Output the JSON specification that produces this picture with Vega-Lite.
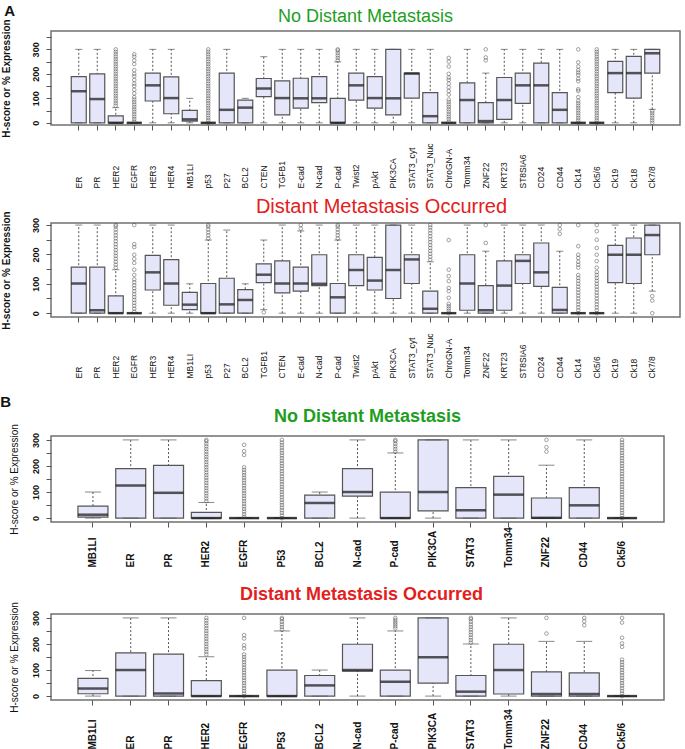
{
"$schema":"https://vega.github.io/schema/vega-lite/v6.json",
"background":"white",
"padding":{"left":0,"top":4,"right":0,"bottom":0},
"spacing":15,
"config":{
 "view":{"stroke":"#707070","strokeWidth":1.5},
 "axis":{"grid":false,"domain":false,"tickColor":"#555","labelColor":"#111","titleColor":"#111","labelFont":"Liberation Sans","titleFont":"Liberation Sans"},
 "axisY":{"labelAngle":-90,"labelAlign":"center","labelBaseline":"bottom","labelPadding":6,"tickSize":5,"labelFontSize":9,"labelFontWeight":"bold","titleFontSize":10,"labelExpr":"datum.value % 100 == 0 && datum.value <= 300 ? datum.label : ''"},
 "title":{"font":"Liberation Sans"}
},
"datasets":{
"box":[
{"p":"a1","m":"ER","lo":0,"q1":0,"md":129,"q3":189,"hi":300},
{"p":"a1","m":"PR","lo":0,"q1":0,"md":97,"q3":200,"hi":300},
{"p":"a1","m":"HER2","lo":0,"q1":0,"md":0,"q3":28,"hi":62},
{"p":"a1","m":"EGFR","lo":0,"q1":0,"md":0,"q3":0,"hi":0},
{"p":"a1","m":"HER3","lo":0,"q1":89,"md":153,"q3":203,"hi":300},
{"p":"a1","m":"HER4","lo":0,"q1":37,"md":101,"q3":188,"hi":300},
{"p":"a1","m":"MB1LI","lo":0,"q1":7,"md":14,"q3":51,"hi":100},
{"p":"a1","m":"p53","lo":0,"q1":0,"md":0,"q3":0,"hi":0},
{"p":"a1","m":"P27","lo":0,"q1":0,"md":53,"q3":203,"hi":300},
{"p":"a1","m":"BCL2","lo":0,"q1":0,"md":62,"q3":93,"hi":100},
{"p":"a1","m":"CTEN","lo":0,"q1":107,"md":140,"q3":181,"hi":270},
{"p":"a1","m":"TGFB1","lo":0,"q1":32,"md":101,"q3":171,"hi":300},
{"p":"a1","m":"E-cad","lo":0,"q1":60,"md":100,"q3":182,"hi":300},
{"p":"a1","m":"N-cad","lo":0,"q1":82,"md":100,"q3":189,"hi":300},
{"p":"a1","m":"P-cad","lo":0,"q1":0,"md":0,"q3":100,"hi":249},
{"p":"a1","m":"Twist2","lo":0,"q1":93,"md":153,"q3":203,"hi":300},
{"p":"a1","m":"pAkt","lo":0,"q1":60,"md":101,"q3":189,"hi":300},
{"p":"a1","m":"PIK3CA","lo":0,"q1":32,"md":100,"q3":300,"hi":300},
{"p":"a1","m":"STAT3_cyt","lo":0,"q1":101,"md":201,"q3":203,"hi":300},
{"p":"a1","m":"STAT3_Nuc","lo":0,"q1":0,"md":27,"q3":123,"hi":300},
{"p":"a1","m":"ChroGN-A","lo":0,"q1":0,"md":0,"q3":0,"hi":0},
{"p":"a1","m":"Tomm34","lo":0,"q1":0,"md":93,"q3":163,"hi":300},
{"p":"a1","m":"ZNF22","lo":0,"q1":0,"md":7,"q3":82,"hi":203},
{"p":"a1","m":"KRT23","lo":0,"q1":14,"md":93,"q3":185,"hi":300},
{"p":"a1","m":"ST8SIA6","lo":0,"q1":79,"md":153,"q3":203,"hi":300},
{"p":"a1","m":"CD24","lo":0,"q1":0,"md":153,"q3":244,"hi":300},
{"p":"a1","m":"CD44","lo":0,"q1":0,"md":53,"q3":123,"hi":300},
{"p":"a1","m":"Ck14","lo":0,"q1":0,"md":0,"q3":0,"hi":0},
{"p":"a1","m":"Ck5/6","lo":0,"q1":0,"md":0,"q3":0,"hi":0},
{"p":"a1","m":"Ck19","lo":0,"q1":123,"md":203,"q3":251,"hi":300},
{"p":"a1","m":"Ck18","lo":0,"q1":101,"md":203,"q3":271,"hi":300},
{"p":"a1","m":"Ck7/8","lo":55,"q1":203,"md":284,"q3":300,"hi":300},
{"p":"a2","m":"ER","lo":0,"q1":0,"md":101,"q3":157,"hi":300},
{"p":"a2","m":"PR","lo":0,"q1":0,"md":10,"q3":157,"hi":300},
{"p":"a2","m":"HER2","lo":0,"q1":0,"md":0,"q3":59,"hi":148},
{"p":"a2","m":"EGFR","lo":0,"q1":0,"md":0,"q3":0,"hi":0},
{"p":"a2","m":"HER3","lo":0,"q1":79,"md":139,"q3":197,"hi":300},
{"p":"a2","m":"HER4","lo":0,"q1":27,"md":101,"q3":182,"hi":300},
{"p":"a2","m":"MB1LI","lo":0,"q1":12,"md":29,"q3":71,"hi":100},
{"p":"a2","m":"p53","lo":0,"q1":0,"md":0,"q3":101,"hi":249},
{"p":"a2","m":"P27","lo":0,"q1":0,"md":30,"q3":119,"hi":283},
{"p":"a2","m":"BCL2","lo":0,"q1":0,"md":45,"q3":80,"hi":100},
{"p":"a2","m":"TGFB1","lo":12,"q1":104,"md":131,"q3":168,"hi":249},
{"p":"a2","m":"CTEN","lo":0,"q1":69,"md":101,"q3":178,"hi":300},
{"p":"a2","m":"E-cad","lo":0,"q1":75,"md":101,"q3":157,"hi":280},
{"p":"a2","m":"N-cad","lo":0,"q1":94,"md":100,"q3":199,"hi":300},
{"p":"a2","m":"P-cad","lo":0,"q1":0,"md":54,"q3":101,"hi":249},
{"p":"a2","m":"Twist2","lo":0,"q1":94,"md":147,"q3":199,"hi":300},
{"p":"a2","m":"pAkt","lo":0,"q1":79,"md":111,"q3":190,"hi":300},
{"p":"a2","m":"PIK3CA","lo":0,"q1":50,"md":147,"q3":300,"hi":300},
{"p":"a2","m":"STAT3_cyt","lo":0,"q1":101,"md":183,"q3":199,"hi":300},
{"p":"a2","m":"STAT3_Nuc","lo":0,"q1":0,"md":15,"q3":75,"hi":175},
{"p":"a2","m":"ChroGN-A","lo":0,"q1":0,"md":0,"q3":0,"hi":0},
{"p":"a2","m":"Tomm34","lo":0,"q1":10,"md":101,"q3":199,"hi":300},
{"p":"a2","m":"ZNF22","lo":0,"q1":0,"md":10,"q3":94,"hi":211},
{"p":"a2","m":"KRT23","lo":0,"q1":10,"md":94,"q3":178,"hi":300},
{"p":"a2","m":"ST8SIA6","lo":0,"q1":101,"md":178,"q3":199,"hi":300},
{"p":"a2","m":"CD24","lo":0,"q1":91,"md":139,"q3":239,"hi":300},
{"p":"a2","m":"CD44","lo":0,"q1":0,"md":11,"q3":88,"hi":211},
{"p":"a2","m":"Ck14","lo":0,"q1":0,"md":0,"q3":0,"hi":0},
{"p":"a2","m":"Ck5/6","lo":0,"q1":0,"md":0,"q3":0,"hi":0},
{"p":"a2","m":"Ck19","lo":0,"q1":104,"md":199,"q3":231,"hi":300},
{"p":"a2","m":"Ck18","lo":0,"q1":101,"md":199,"q3":256,"hi":300},
{"p":"a2","m":"Ck7/8","lo":75,"q1":199,"md":266,"q3":300,"hi":300},
{"p":"b1","m":"MB1LI","lo":0,"q1":4,"md":13,"q3":46,"hi":100},
{"p":"b1","m":"ER","lo":0,"q1":0,"md":125,"q3":190,"hi":300},
{"p":"b1","m":"PR","lo":0,"q1":0,"md":97,"q3":202,"hi":300},
{"p":"b1","m":"HER2","lo":0,"q1":0,"md":0,"q3":22,"hi":60},
{"p":"b1","m":"EGFR","lo":0,"q1":0,"md":0,"q3":0,"hi":0},
{"p":"b1","m":"P53","lo":0,"q1":0,"md":0,"q3":0,"hi":0},
{"p":"b1","m":"BCL2","lo":0,"q1":0,"md":58,"q3":88,"hi":100},
{"p":"b1","m":"N-cad","lo":0,"q1":84,"md":100,"q3":190,"hi":300},
{"p":"b1","m":"P-cad","lo":0,"q1":0,"md":0,"q3":100,"hi":250},
{"p":"b1","m":"PIK3CA","lo":0,"q1":28,"md":100,"q3":300,"hi":300},
{"p":"b1","m":"STAT3","lo":0,"q1":0,"md":30,"q3":117,"hi":300},
{"p":"b1","m":"Tomm34","lo":0,"q1":0,"md":90,"q3":160,"hi":300},
{"p":"b1","m":"ZNF22","lo":0,"q1":0,"md":1,"q3":77,"hi":203},
{"p":"b1","m":"CD44","lo":0,"q1":0,"md":49,"q3":117,"hi":300},
{"p":"b1","m":"Ck5/6","lo":0,"q1":0,"md":0,"q3":0,"hi":0},
{"p":"b2","m":"MB1LI","lo":0,"q1":9,"md":29,"q3":68,"hi":98},
{"p":"b2","m":"ER","lo":0,"q1":0,"md":100,"q3":166,"hi":300},
{"p":"b2","m":"PR","lo":0,"q1":0,"md":10,"q3":161,"hi":300},
{"p":"b2","m":"HER2","lo":0,"q1":0,"md":0,"q3":59,"hi":151},
{"p":"b2","m":"EGFR","lo":0,"q1":0,"md":0,"q3":0,"hi":0},
{"p":"b2","m":"P53","lo":0,"q1":0,"md":0,"q3":100,"hi":250},
{"p":"b2","m":"BCL2","lo":0,"q1":0,"md":41,"q3":79,"hi":100},
{"p":"b2","m":"N-cad","lo":0,"q1":96,"md":100,"q3":199,"hi":300},
{"p":"b2","m":"P-cad","lo":0,"q1":0,"md":55,"q3":100,"hi":250},
{"p":"b2","m":"PIK3CA","lo":0,"q1":50,"md":149,"q3":300,"hi":300},
{"p":"b2","m":"STAT3","lo":0,"q1":0,"md":17,"q3":79,"hi":200},
{"p":"b2","m":"Tomm34","lo":0,"q1":8,"md":100,"q3":199,"hi":300},
{"p":"b2","m":"ZNF22","lo":0,"q1":0,"md":8,"q3":93,"hi":210},
{"p":"b2","m":"CD44","lo":0,"q1":0,"md":8,"q3":89,"hi":210},
{"p":"b2","m":"Ck5/6","lo":0,"q1":0,"md":0,"q3":0,"hi":0}
],
"out":[
{"p":"a1","m":"HER2","v":70},{"p":"a1","m":"HER2","v":80},{"p":"a1","m":"HER2","v":90},{"p":"a1","m":"HER2","v":100},{"p":"a1","m":"HER2","v":110},{"p":"a1","m":"HER2","v":120},{"p":"a1","m":"HER2","v":130},{"p":"a1","m":"HER2","v":140},{"p":"a1","m":"HER2","v":150},{"p":"a1","m":"HER2","v":160},{"p":"a1","m":"HER2","v":170},{"p":"a1","m":"HER2","v":180},{"p":"a1","m":"HER2","v":190},{"p":"a1","m":"HER2","v":200},{"p":"a1","m":"HER2","v":210},{"p":"a1","m":"HER2","v":220},{"p":"a1","m":"HER2","v":230},{"p":"a1","m":"HER2","v":240},{"p":"a1","m":"HER2","v":250},{"p":"a1","m":"HER2","v":260},{"p":"a1","m":"HER2","v":270},{"p":"a1","m":"HER2","v":280},{"p":"a1","m":"HER2","v":290},{"p":"a1","m":"HER2","v":300},
{"p":"a1","m":"EGFR","v":5},{"p":"a1","m":"EGFR","v":15},{"p":"a1","m":"EGFR","v":25},{"p":"a1","m":"EGFR","v":35},{"p":"a1","m":"EGFR","v":45},{"p":"a1","m":"EGFR","v":55},{"p":"a1","m":"EGFR","v":65},{"p":"a1","m":"EGFR","v":75},{"p":"a1","m":"EGFR","v":85},{"p":"a1","m":"EGFR","v":95},{"p":"a1","m":"EGFR","v":105},{"p":"a1","m":"EGFR","v":120},{"p":"a1","m":"EGFR","v":135},{"p":"a1","m":"EGFR","v":150},{"p":"a1","m":"EGFR","v":160},{"p":"a1","m":"EGFR","v":175},{"p":"a1","m":"EGFR","v":190},{"p":"a1","m":"EGFR","v":200},{"p":"a1","m":"EGFR","v":215},{"p":"a1","m":"EGFR","v":240},{"p":"a1","m":"EGFR","v":255},{"p":"a1","m":"EGFR","v":270},{"p":"a1","m":"EGFR","v":280},
{"p":"a1","m":"p53","v":0},{"p":"a1","m":"p53","v":10},{"p":"a1","m":"p53","v":20},{"p":"a1","m":"p53","v":30},{"p":"a1","m":"p53","v":40},{"p":"a1","m":"p53","v":50},{"p":"a1","m":"p53","v":60},{"p":"a1","m":"p53","v":70},{"p":"a1","m":"p53","v":80},{"p":"a1","m":"p53","v":90},{"p":"a1","m":"p53","v":100},{"p":"a1","m":"p53","v":110},{"p":"a1","m":"p53","v":120},{"p":"a1","m":"p53","v":130},{"p":"a1","m":"p53","v":140},{"p":"a1","m":"p53","v":150},{"p":"a1","m":"p53","v":160},{"p":"a1","m":"p53","v":170},{"p":"a1","m":"p53","v":180},{"p":"a1","m":"p53","v":190},{"p":"a1","m":"p53","v":200},{"p":"a1","m":"p53","v":210},{"p":"a1","m":"p53","v":220},{"p":"a1","m":"p53","v":230},{"p":"a1","m":"p53","v":240},{"p":"a1","m":"p53","v":250},{"p":"a1","m":"p53","v":260},{"p":"a1","m":"p53","v":270},{"p":"a1","m":"p53","v":280},{"p":"a1","m":"p53","v":290},{"p":"a1","m":"p53","v":300},
{"p":"a1","m":"P-cad","v":255},{"p":"a1","m":"P-cad","v":265},{"p":"a1","m":"P-cad","v":275},{"p":"a1","m":"P-cad","v":285},{"p":"a1","m":"P-cad","v":295},{"p":"a1","m":"P-cad","v":300},
{"p":"a1","m":"ChroGN-A","v":5},{"p":"a1","m":"ChroGN-A","v":15},{"p":"a1","m":"ChroGN-A","v":25},{"p":"a1","m":"ChroGN-A","v":35},{"p":"a1","m":"ChroGN-A","v":45},{"p":"a1","m":"ChroGN-A","v":55},{"p":"a1","m":"ChroGN-A","v":65},{"p":"a1","m":"ChroGN-A","v":75},{"p":"a1","m":"ChroGN-A","v":85},{"p":"a1","m":"ChroGN-A","v":95},{"p":"a1","m":"ChroGN-A","v":115},{"p":"a1","m":"ChroGN-A","v":130},{"p":"a1","m":"ChroGN-A","v":145},{"p":"a1","m":"ChroGN-A","v":160},{"p":"a1","m":"ChroGN-A","v":175},{"p":"a1","m":"ChroGN-A","v":185},{"p":"a1","m":"ChroGN-A","v":200},{"p":"a1","m":"ChroGN-A","v":230},{"p":"a1","m":"ChroGN-A","v":250},{"p":"a1","m":"ChroGN-A","v":265},
{"p":"a1","m":"ZNF22","v":255},{"p":"a1","m":"ZNF22","v":267},{"p":"a1","m":"ZNF22","v":300},
{"p":"a1","m":"Ck14","v":0},{"p":"a1","m":"Ck14","v":10},{"p":"a1","m":"Ck14","v":20},{"p":"a1","m":"Ck14","v":30},{"p":"a1","m":"Ck14","v":40},{"p":"a1","m":"Ck14","v":50},{"p":"a1","m":"Ck14","v":60},{"p":"a1","m":"Ck14","v":70},{"p":"a1","m":"Ck14","v":80},{"p":"a1","m":"Ck14","v":90},{"p":"a1","m":"Ck14","v":105},{"p":"a1","m":"Ck14","v":130},{"p":"a1","m":"Ck14","v":137},{"p":"a1","m":"Ck14","v":170},{"p":"a1","m":"Ck14","v":180},{"p":"a1","m":"Ck14","v":195},{"p":"a1","m":"Ck14","v":205},{"p":"a1","m":"Ck14","v":215},{"p":"a1","m":"Ck14","v":230},{"p":"a1","m":"Ck14","v":247},{"p":"a1","m":"Ck14","v":300},
{"p":"a1","m":"Ck5/6","v":0},{"p":"a1","m":"Ck5/6","v":10},{"p":"a1","m":"Ck5/6","v":20},{"p":"a1","m":"Ck5/6","v":30},{"p":"a1","m":"Ck5/6","v":40},{"p":"a1","m":"Ck5/6","v":50},{"p":"a1","m":"Ck5/6","v":60},{"p":"a1","m":"Ck5/6","v":70},{"p":"a1","m":"Ck5/6","v":80},{"p":"a1","m":"Ck5/6","v":90},{"p":"a1","m":"Ck5/6","v":100},{"p":"a1","m":"Ck5/6","v":110},{"p":"a1","m":"Ck5/6","v":120},{"p":"a1","m":"Ck5/6","v":130},{"p":"a1","m":"Ck5/6","v":140},{"p":"a1","m":"Ck5/6","v":150},{"p":"a1","m":"Ck5/6","v":160},{"p":"a1","m":"Ck5/6","v":170},{"p":"a1","m":"Ck5/6","v":180},{"p":"a1","m":"Ck5/6","v":190},{"p":"a1","m":"Ck5/6","v":200},{"p":"a1","m":"Ck5/6","v":210},{"p":"a1","m":"Ck5/6","v":220},{"p":"a1","m":"Ck5/6","v":230},{"p":"a1","m":"Ck5/6","v":240},{"p":"a1","m":"Ck5/6","v":250},{"p":"a1","m":"Ck5/6","v":260},{"p":"a1","m":"Ck5/6","v":270},{"p":"a1","m":"Ck5/6","v":280},{"p":"a1","m":"Ck5/6","v":290},{"p":"a1","m":"Ck5/6","v":300},
{"p":"a1","m":"Ck7/8","v":0},{"p":"a1","m":"Ck7/8","v":10},{"p":"a1","m":"Ck7/8","v":20},{"p":"a1","m":"Ck7/8","v":30},{"p":"a1","m":"Ck7/8","v":40},{"p":"a1","m":"Ck7/8","v":48},
{"p":"a2","m":"HER2","v":155},{"p":"a2","m":"HER2","v":165},{"p":"a2","m":"HER2","v":175},{"p":"a2","m":"HER2","v":185},{"p":"a2","m":"HER2","v":195},{"p":"a2","m":"HER2","v":205},{"p":"a2","m":"HER2","v":215},{"p":"a2","m":"HER2","v":225},{"p":"a2","m":"HER2","v":235},{"p":"a2","m":"HER2","v":245},{"p":"a2","m":"HER2","v":255},{"p":"a2","m":"HER2","v":265},{"p":"a2","m":"HER2","v":275},{"p":"a2","m":"HER2","v":285},{"p":"a2","m":"HER2","v":295},{"p":"a2","m":"HER2","v":300},
{"p":"a2","m":"EGFR","v":5},{"p":"a2","m":"EGFR","v":15},{"p":"a2","m":"EGFR","v":25},{"p":"a2","m":"EGFR","v":35},{"p":"a2","m":"EGFR","v":45},{"p":"a2","m":"EGFR","v":55},{"p":"a2","m":"EGFR","v":65},{"p":"a2","m":"EGFR","v":75},{"p":"a2","m":"EGFR","v":85},{"p":"a2","m":"EGFR","v":95},{"p":"a2","m":"EGFR","v":105},{"p":"a2","m":"EGFR","v":115},{"p":"a2","m":"EGFR","v":130},{"p":"a2","m":"EGFR","v":148},{"p":"a2","m":"EGFR","v":171},{"p":"a2","m":"EGFR","v":185},{"p":"a2","m":"EGFR","v":199},{"p":"a2","m":"EGFR","v":225},{"p":"a2","m":"EGFR","v":235},{"p":"a2","m":"EGFR","v":300},
{"p":"a2","m":"p53","v":255},{"p":"a2","m":"p53","v":265},{"p":"a2","m":"p53","v":275},{"p":"a2","m":"p53","v":285},{"p":"a2","m":"p53","v":295},{"p":"a2","m":"p53","v":300},
{"p":"a2","m":"TGFB1","v":3},
{"p":"a2","m":"E-cad","v":288},{"p":"a2","m":"E-cad","v":300},
{"p":"a2","m":"P-cad","v":255},{"p":"a2","m":"P-cad","v":265},{"p":"a2","m":"P-cad","v":275},{"p":"a2","m":"P-cad","v":285},{"p":"a2","m":"P-cad","v":295},{"p":"a2","m":"P-cad","v":300},
{"p":"a2","m":"STAT3_Nuc","v":182},{"p":"a2","m":"STAT3_Nuc","v":192},{"p":"a2","m":"STAT3_Nuc","v":202},{"p":"a2","m":"STAT3_Nuc","v":212},{"p":"a2","m":"STAT3_Nuc","v":222},{"p":"a2","m":"STAT3_Nuc","v":232},{"p":"a2","m":"STAT3_Nuc","v":242},{"p":"a2","m":"STAT3_Nuc","v":252},{"p":"a2","m":"STAT3_Nuc","v":262},{"p":"a2","m":"STAT3_Nuc","v":272},{"p":"a2","m":"STAT3_Nuc","v":282},{"p":"a2","m":"STAT3_Nuc","v":292},{"p":"a2","m":"STAT3_Nuc","v":300},
{"p":"a2","m":"ChroGN-A","v":0},{"p":"a2","m":"ChroGN-A","v":8},{"p":"a2","m":"ChroGN-A","v":16},{"p":"a2","m":"ChroGN-A","v":24},{"p":"a2","m":"ChroGN-A","v":32},{"p":"a2","m":"ChroGN-A","v":52},{"p":"a2","m":"ChroGN-A","v":75},{"p":"a2","m":"ChroGN-A","v":86},{"p":"a2","m":"ChroGN-A","v":109},{"p":"a2","m":"ChroGN-A","v":126},{"p":"a2","m":"ChroGN-A","v":148},{"p":"a2","m":"ChroGN-A","v":249},
{"p":"a2","m":"ZNF22","v":239},{"p":"a2","m":"ZNF22","v":300},
{"p":"a2","m":"CD44","v":270},{"p":"a2","m":"CD44","v":286},{"p":"a2","m":"CD44","v":300},
{"p":"a2","m":"Ck14","v":0},{"p":"a2","m":"Ck14","v":10},{"p":"a2","m":"Ck14","v":20},{"p":"a2","m":"Ck14","v":30},{"p":"a2","m":"Ck14","v":40},{"p":"a2","m":"Ck14","v":50},{"p":"a2","m":"Ck14","v":60},{"p":"a2","m":"Ck14","v":70},{"p":"a2","m":"Ck14","v":80},{"p":"a2","m":"Ck14","v":90},{"p":"a2","m":"Ck14","v":100},{"p":"a2","m":"Ck14","v":110},{"p":"a2","m":"Ck14","v":120},{"p":"a2","m":"Ck14","v":130},{"p":"a2","m":"Ck14","v":155},{"p":"a2","m":"Ck14","v":165},{"p":"a2","m":"Ck14","v":175},{"p":"a2","m":"Ck14","v":188},{"p":"a2","m":"Ck14","v":199},{"p":"a2","m":"Ck14","v":228},{"p":"a2","m":"Ck14","v":300},
{"p":"a2","m":"Ck5/6","v":0},{"p":"a2","m":"Ck5/6","v":10},{"p":"a2","m":"Ck5/6","v":20},{"p":"a2","m":"Ck5/6","v":30},{"p":"a2","m":"Ck5/6","v":40},{"p":"a2","m":"Ck5/6","v":50},{"p":"a2","m":"Ck5/6","v":60},{"p":"a2","m":"Ck5/6","v":70},{"p":"a2","m":"Ck5/6","v":80},{"p":"a2","m":"Ck5/6","v":90},{"p":"a2","m":"Ck5/6","v":100},{"p":"a2","m":"Ck5/6","v":110},{"p":"a2","m":"Ck5/6","v":120},{"p":"a2","m":"Ck5/6","v":130},{"p":"a2","m":"Ck5/6","v":140},{"p":"a2","m":"Ck5/6","v":155},{"p":"a2","m":"Ck5/6","v":177},{"p":"a2","m":"Ck5/6","v":199},{"p":"a2","m":"Ck5/6","v":222},{"p":"a2","m":"Ck5/6","v":250},{"p":"a2","m":"Ck5/6","v":279},{"p":"a2","m":"Ck5/6","v":300},
{"p":"a2","m":"Ck7/8","v":0},{"p":"a2","m":"Ck7/8","v":43},{"p":"a2","m":"Ck7/8","v":58},
{"p":"b1","m":"HER2","v":65},{"p":"b1","m":"HER2","v":75},{"p":"b1","m":"HER2","v":85},{"p":"b1","m":"HER2","v":95},{"p":"b1","m":"HER2","v":105},{"p":"b1","m":"HER2","v":115},{"p":"b1","m":"HER2","v":125},{"p":"b1","m":"HER2","v":135},{"p":"b1","m":"HER2","v":145},{"p":"b1","m":"HER2","v":155},{"p":"b1","m":"HER2","v":165},{"p":"b1","m":"HER2","v":175},{"p":"b1","m":"HER2","v":185},{"p":"b1","m":"HER2","v":195},{"p":"b1","m":"HER2","v":205},{"p":"b1","m":"HER2","v":215},{"p":"b1","m":"HER2","v":225},{"p":"b1","m":"HER2","v":235},{"p":"b1","m":"HER2","v":245},{"p":"b1","m":"HER2","v":255},{"p":"b1","m":"HER2","v":265},{"p":"b1","m":"HER2","v":275},{"p":"b1","m":"HER2","v":285},{"p":"b1","m":"HER2","v":295},{"p":"b1","m":"HER2","v":300},
{"p":"b1","m":"EGFR","v":5},{"p":"b1","m":"EGFR","v":15},{"p":"b1","m":"EGFR","v":25},{"p":"b1","m":"EGFR","v":35},{"p":"b1","m":"EGFR","v":45},{"p":"b1","m":"EGFR","v":55},{"p":"b1","m":"EGFR","v":65},{"p":"b1","m":"EGFR","v":75},{"p":"b1","m":"EGFR","v":85},{"p":"b1","m":"EGFR","v":95},{"p":"b1","m":"EGFR","v":105},{"p":"b1","m":"EGFR","v":115},{"p":"b1","m":"EGFR","v":125},{"p":"b1","m":"EGFR","v":135},{"p":"b1","m":"EGFR","v":145},{"p":"b1","m":"EGFR","v":155},{"p":"b1","m":"EGFR","v":165},{"p":"b1","m":"EGFR","v":175},{"p":"b1","m":"EGFR","v":185},{"p":"b1","m":"EGFR","v":195},{"p":"b1","m":"EGFR","v":242},{"p":"b1","m":"EGFR","v":257},{"p":"b1","m":"EGFR","v":281},
{"p":"b1","m":"P53","v":0},{"p":"b1","m":"P53","v":10},{"p":"b1","m":"P53","v":20},{"p":"b1","m":"P53","v":30},{"p":"b1","m":"P53","v":40},{"p":"b1","m":"P53","v":50},{"p":"b1","m":"P53","v":60},{"p":"b1","m":"P53","v":70},{"p":"b1","m":"P53","v":80},{"p":"b1","m":"P53","v":90},{"p":"b1","m":"P53","v":100},{"p":"b1","m":"P53","v":110},{"p":"b1","m":"P53","v":120},{"p":"b1","m":"P53","v":130},{"p":"b1","m":"P53","v":140},{"p":"b1","m":"P53","v":150},{"p":"b1","m":"P53","v":160},{"p":"b1","m":"P53","v":170},{"p":"b1","m":"P53","v":180},{"p":"b1","m":"P53","v":190},{"p":"b1","m":"P53","v":200},{"p":"b1","m":"P53","v":210},{"p":"b1","m":"P53","v":220},{"p":"b1","m":"P53","v":230},{"p":"b1","m":"P53","v":240},{"p":"b1","m":"P53","v":250},{"p":"b1","m":"P53","v":260},{"p":"b1","m":"P53","v":270},{"p":"b1","m":"P53","v":280},{"p":"b1","m":"P53","v":290},{"p":"b1","m":"P53","v":300},
{"p":"b1","m":"P-cad","v":255},{"p":"b1","m":"P-cad","v":265},{"p":"b1","m":"P-cad","v":275},{"p":"b1","m":"P-cad","v":285},{"p":"b1","m":"P-cad","v":295},{"p":"b1","m":"P-cad","v":300},
{"p":"b1","m":"ZNF22","v":255},{"p":"b1","m":"ZNF22","v":272},{"p":"b1","m":"ZNF22","v":300},
{"p":"b1","m":"Ck5/6","v":0},{"p":"b1","m":"Ck5/6","v":10},{"p":"b1","m":"Ck5/6","v":20},{"p":"b1","m":"Ck5/6","v":30},{"p":"b1","m":"Ck5/6","v":40},{"p":"b1","m":"Ck5/6","v":50},{"p":"b1","m":"Ck5/6","v":60},{"p":"b1","m":"Ck5/6","v":70},{"p":"b1","m":"Ck5/6","v":80},{"p":"b1","m":"Ck5/6","v":90},{"p":"b1","m":"Ck5/6","v":100},{"p":"b1","m":"Ck5/6","v":110},{"p":"b1","m":"Ck5/6","v":120},{"p":"b1","m":"Ck5/6","v":130},{"p":"b1","m":"Ck5/6","v":140},{"p":"b1","m":"Ck5/6","v":150},{"p":"b1","m":"Ck5/6","v":160},{"p":"b1","m":"Ck5/6","v":170},{"p":"b1","m":"Ck5/6","v":180},{"p":"b1","m":"Ck5/6","v":190},{"p":"b1","m":"Ck5/6","v":200},{"p":"b1","m":"Ck5/6","v":210},{"p":"b1","m":"Ck5/6","v":220},{"p":"b1","m":"Ck5/6","v":230},{"p":"b1","m":"Ck5/6","v":240},{"p":"b1","m":"Ck5/6","v":250},{"p":"b1","m":"Ck5/6","v":260},{"p":"b1","m":"Ck5/6","v":270},{"p":"b1","m":"Ck5/6","v":280},{"p":"b1","m":"Ck5/6","v":290},{"p":"b1","m":"Ck5/6","v":300},
{"p":"b2","m":"HER2","v":160},{"p":"b2","m":"HER2","v":170},{"p":"b2","m":"HER2","v":180},{"p":"b2","m":"HER2","v":190},{"p":"b2","m":"HER2","v":200},{"p":"b2","m":"HER2","v":210},{"p":"b2","m":"HER2","v":220},{"p":"b2","m":"HER2","v":230},{"p":"b2","m":"HER2","v":240},{"p":"b2","m":"HER2","v":250},{"p":"b2","m":"HER2","v":260},{"p":"b2","m":"HER2","v":270},{"p":"b2","m":"HER2","v":280},{"p":"b2","m":"HER2","v":290},{"p":"b2","m":"HER2","v":300},
{"p":"b2","m":"EGFR","v":0},{"p":"b2","m":"EGFR","v":10},{"p":"b2","m":"EGFR","v":20},{"p":"b2","m":"EGFR","v":30},{"p":"b2","m":"EGFR","v":40},{"p":"b2","m":"EGFR","v":50},{"p":"b2","m":"EGFR","v":60},{"p":"b2","m":"EGFR","v":70},{"p":"b2","m":"EGFR","v":80},{"p":"b2","m":"EGFR","v":90},{"p":"b2","m":"EGFR","v":100},{"p":"b2","m":"EGFR","v":110},{"p":"b2","m":"EGFR","v":120},{"p":"b2","m":"EGFR","v":130},{"p":"b2","m":"EGFR","v":140},{"p":"b2","m":"EGFR","v":150},{"p":"b2","m":"EGFR","v":160},{"p":"b2","m":"EGFR","v":183},{"p":"b2","m":"EGFR","v":195},{"p":"b2","m":"EGFR","v":221},{"p":"b2","m":"EGFR","v":234},{"p":"b2","m":"EGFR","v":300},
{"p":"b2","m":"P53","v":255},{"p":"b2","m":"P53","v":265},{"p":"b2","m":"P53","v":275},{"p":"b2","m":"P53","v":285},{"p":"b2","m":"P53","v":295},{"p":"b2","m":"P53","v":300},
{"p":"b2","m":"P-cad","v":260},{"p":"b2","m":"P-cad","v":268},{"p":"b2","m":"P-cad","v":276},{"p":"b2","m":"P-cad","v":284},{"p":"b2","m":"P-cad","v":292},{"p":"b2","m":"P-cad","v":300},
{"p":"b2","m":"STAT3","v":205},{"p":"b2","m":"STAT3","v":215},{"p":"b2","m":"STAT3","v":225},{"p":"b2","m":"STAT3","v":235},{"p":"b2","m":"STAT3","v":245},{"p":"b2","m":"STAT3","v":255},{"p":"b2","m":"STAT3","v":265},{"p":"b2","m":"STAT3","v":275},{"p":"b2","m":"STAT3","v":285},{"p":"b2","m":"STAT3","v":295},{"p":"b2","m":"STAT3","v":300},
{"p":"b2","m":"ZNF22","v":240},{"p":"b2","m":"ZNF22","v":300},
{"p":"b2","m":"CD44","v":272},{"p":"b2","m":"CD44","v":287},{"p":"b2","m":"CD44","v":300},
{"p":"b2","m":"Ck5/6","v":0},{"p":"b2","m":"Ck5/6","v":10},{"p":"b2","m":"Ck5/6","v":20},{"p":"b2","m":"Ck5/6","v":30},{"p":"b2","m":"Ck5/6","v":40},{"p":"b2","m":"Ck5/6","v":50},{"p":"b2","m":"Ck5/6","v":60},{"p":"b2","m":"Ck5/6","v":70},{"p":"b2","m":"Ck5/6","v":80},{"p":"b2","m":"Ck5/6","v":90},{"p":"b2","m":"Ck5/6","v":100},{"p":"b2","m":"Ck5/6","v":110},{"p":"b2","m":"Ck5/6","v":120},{"p":"b2","m":"Ck5/6","v":130},{"p":"b2","m":"Ck5/6","v":140},{"p":"b2","m":"Ck5/6","v":189},{"p":"b2","m":"Ck5/6","v":202},{"p":"b2","m":"Ck5/6","v":224},{"p":"b2","m":"Ck5/6","v":282},{"p":"b2","m":"Ck5/6","v":300}
]
},
"vconcat":[
{
 "title":{"text":"A","anchor":"start","fontSize":15,"fontWeight":"bold","color":"#111","offset":-12,"dx":4},
 "bounds":"flush",
 "spacing":98,
 "vconcat":[
 {
  "width":629,"height":94,
  "title":{"text":"No Distant Metastasis","color":"#1e9e1e","fontSize":18,"fontWeight":"normal","offset":-7,"frame":"group"},
  "encoding":{"x":{"field":"m","type":"nominal","title":null,
    "scale":{"type":"band","domain":["ER","PR","HER2","EGFR","HER3","HER4","MB1LI","p53","P27","BCL2","CTEN","TGFB1","E-cad","N-cad","P-cad","Twist2","pAkt","PIK3CA","STAT3_cyt","STAT3_Nuc","ChroGN-A","Tomm34","ZNF22","KRT23","ST8SIA6","CD24","CD44","Ck14","Ck5/6","Ck19","Ck18","Ck7/8"],"paddingInner":0,"paddingOuter":1.28},
    "axis":{"labelAngle":-90,"labelAlign":"left","labelBaseline":"middle","labelPadding":58,"tickSize":5,"labelFontSize":8.5}}},
  "layer":[
   {"data":{"name":"box"},"transform":[{"filter":"datum.p==='a1'"}],"mark":{"type":"rule","strokeDash":[2,2],"color":"#555","strokeWidth":1},
    "encoding":{"y":{"field":"lo","type":"quantitative","title":"H-score or % Expression","scale":{"domain":[-9,375],"nice":false,"zero":false},"axis":{"values":[0,50,100,150,200,250,300,350],"titleFontWeight":"bold","titlePadding":20}},"y2":{"field":"hi"}}},
   {"data":{"name":"box"},"transform":[{"filter":"datum.p==='a1'"}],"mark":{"type":"bar","size":15,"fill":"#e6e6fa","stroke":"#555","strokeWidth":1.2},
    "encoding":{"y":{"field":"q1","type":"quantitative","title":"H-score or % Expression","scale":{"domain":[-9,375],"nice":false,"zero":false},"axis":{"values":[0,50,100,150,200,250,300,350],"titleFontWeight":"bold","titlePadding":20}},"y2":{"field":"q3"}}},
   {"data":{"name":"box"},"transform":[{"filter":"datum.p==='a1'"}],"mark":{"type":"tick","size":7,"thickness":1,"color":"#555"},
    "encoding":{"y":{"field":"lo","type":"quantitative","title":"H-score or % Expression","scale":{"domain":[-9,375],"nice":false,"zero":false},"axis":{"values":[0,50,100,150,200,250,300,350],"titleFontWeight":"bold","titlePadding":20}}}},
   {"data":{"name":"box"},"transform":[{"filter":"datum.p==='a1'"}],"mark":{"type":"tick","size":7,"thickness":1,"color":"#555"},
    "encoding":{"y":{"field":"hi","type":"quantitative","title":"H-score or % Expression","scale":{"domain":[-9,375],"nice":false,"zero":false},"axis":{"values":[0,50,100,150,200,250,300,350],"titleFontWeight":"bold","titlePadding":20}}}},
   {"data":{"name":"box"},"transform":[{"filter":"datum.p==='a1'"}],"mark":{"type":"tick","size":15,"thickness":2.5,"color":"#111"},
    "encoding":{"y":{"field":"md","type":"quantitative","title":"H-score or % Expression","scale":{"domain":[-9,375],"nice":false,"zero":false},"axis":{"values":[0,50,100,150,200,250,300,350],"titleFontWeight":"bold","titlePadding":20}}}},
   {"data":{"name":"out"},"transform":[{"filter":"datum.p==='a1'"}],"mark":{"type":"point","size":13,"stroke":"#444","strokeWidth":0.7,"filled":false},
    "encoding":{"y":{"field":"v","type":"quantitative","title":"H-score or % Expression","scale":{"domain":[-9,375],"nice":false,"zero":false},"axis":{"values":[0,50,100,150,200,250,300,350],"titleFontWeight":"bold","titlePadding":20}}}}
  ]
 },
 {
  "width":629,"height":94,
  "title":{"text":"Distant Metastasis Occurred","color":"#e3201b","fontSize":20,"fontWeight":"normal","offset":-6,"frame":"group","dx":16},
  "encoding":{"x":{"field":"m","type":"nominal","title":null,
    "scale":{"type":"band","domain":["ER","PR","HER2","EGFR","HER3","HER4","MB1LI","p53","P27","BCL2","TGFB1","CTEN","E-cad","N-cad","P-cad","Twist2","pAkt","PIK3CA","STAT3_cyt","STAT3_Nuc","ChroGN-A","Tomm34","ZNF22","KRT23","ST8SIA6","CD24","CD44","Ck14","Ck5/6","Ck19","Ck18","Ck7/8"],"paddingInner":0,"paddingOuter":1.28},
    "axis":{"labelAngle":-90,"labelAlign":"left","labelBaseline":"middle","labelPadding":56,"tickSize":5,"labelFontSize":8.5}}},
  "layer":[
   {"data":{"name":"box"},"transform":[{"filter":"datum.p==='a2'"}],"mark":{"type":"rule","strokeDash":[2,2],"color":"#555","strokeWidth":1},
    "encoding":{"y":{"field":"lo","type":"quantitative","title":"H-score or % Expression","scale":{"domain":[-13,307],"nice":false,"zero":false},"axis":{"values":[0,50,100,150,200,250,300],"titleFontWeight":"bold","titlePadding":20}},"y2":{"field":"hi"}}},
   {"data":{"name":"box"},"transform":[{"filter":"datum.p==='a2'"}],"mark":{"type":"bar","size":15,"fill":"#e6e6fa","stroke":"#555","strokeWidth":1.2},
    "encoding":{"y":{"field":"q1","type":"quantitative","title":"H-score or % Expression","scale":{"domain":[-13,307],"nice":false,"zero":false},"axis":{"values":[0,50,100,150,200,250,300],"titleFontWeight":"bold","titlePadding":20}},"y2":{"field":"q3"}}},
   {"data":{"name":"box"},"transform":[{"filter":"datum.p==='a2'"}],"mark":{"type":"tick","size":7,"thickness":1,"color":"#555"},
    "encoding":{"y":{"field":"lo","type":"quantitative","title":"H-score or % Expression","scale":{"domain":[-13,307],"nice":false,"zero":false},"axis":{"values":[0,50,100,150,200,250,300],"titleFontWeight":"bold","titlePadding":20}}}},
   {"data":{"name":"box"},"transform":[{"filter":"datum.p==='a2'"}],"mark":{"type":"tick","size":7,"thickness":1,"color":"#555"},
    "encoding":{"y":{"field":"hi","type":"quantitative","title":"H-score or % Expression","scale":{"domain":[-13,307],"nice":false,"zero":false},"axis":{"values":[0,50,100,150,200,250,300],"titleFontWeight":"bold","titlePadding":20}}}},
   {"data":{"name":"box"},"transform":[{"filter":"datum.p==='a2'"}],"mark":{"type":"tick","size":15,"thickness":2.5,"color":"#111"},
    "encoding":{"y":{"field":"md","type":"quantitative","title":"H-score or % Expression","scale":{"domain":[-13,307],"nice":false,"zero":false},"axis":{"values":[0,50,100,150,200,250,300],"titleFontWeight":"bold","titlePadding":20}}}},
   {"data":{"name":"out"},"transform":[{"filter":"datum.p==='a2'"}],"mark":{"type":"point","size":13,"stroke":"#444","strokeWidth":0.7,"filled":false},
    "encoding":{"y":{"field":"v","type":"quantitative","title":"H-score or % Expression","scale":{"domain":[-13,307],"nice":false,"zero":false},"axis":{"values":[0,50,100,150,200,250,300],"titleFontWeight":"bold","titlePadding":20}}}}
  ]
 }
 ]
},
{
 "title":{"text":"B","anchor":"start","fontSize":15,"fontWeight":"bold","color":"#111","offset":-3,"dx":-8},
 "bounds":"flush",
 "spacing":92,
 "vconcat":[
 {
  "width":613,"height":86,
  "title":{"text":"No Distant Metastasis","color":"#1e9e1e","fontSize":18,"fontWeight":"bold","offset":-2,"frame":"group","dx":10},
  "encoding":{"x":{"field":"m","type":"nominal","title":null,
    "scale":{"type":"band","domain":["MB1LI","ER","PR","HER2","EGFR","P53","BCL2","N-cad","P-cad","PIK3CA","STAT3","Tomm34","ZNF22","CD44","Ck5/6"],"paddingInner":0,"paddingOuter":0.61},
    "axis":{"labelAngle":-90,"labelAlign":"left","labelBaseline":"middle","labelPadding":40,"tickSize":5,"labelFontSize":10,"labelFontWeight":"bold"}}},
  "layer":[
   {"data":{"name":"box"},"transform":[{"filter":"datum.p==='b1'"}],"mark":{"type":"rule","strokeDash":[2,2],"color":"#555","strokeWidth":1},
    "encoding":{"y":{"field":"lo","type":"quantitative","title":"H-score or % Expression","scale":{"domain":[-15,315],"nice":false,"zero":false},"axis":{"values":[0,50,100,150,200,250,300],"titleFontWeight":"normal","titlePadding":12}},"y2":{"field":"hi"}}},
   {"data":{"name":"box"},"transform":[{"filter":"datum.p==='b1'"}],"mark":{"type":"bar","size":30,"fill":"#e6e6fa","stroke":"#555","strokeWidth":1.2},
    "encoding":{"y":{"field":"q1","type":"quantitative","title":"H-score or % Expression","scale":{"domain":[-15,315],"nice":false,"zero":false},"axis":{"values":[0,50,100,150,200,250,300],"titleFontWeight":"normal","titlePadding":12}},"y2":{"field":"q3"}}},
   {"data":{"name":"box"},"transform":[{"filter":"datum.p==='b1'"}],"mark":{"type":"tick","size":16,"thickness":1,"color":"#555"},
    "encoding":{"y":{"field":"lo","type":"quantitative","title":"H-score or % Expression","scale":{"domain":[-15,315],"nice":false,"zero":false},"axis":{"values":[0,50,100,150,200,250,300],"titleFontWeight":"normal","titlePadding":12}}}},
   {"data":{"name":"box"},"transform":[{"filter":"datum.p==='b1'"}],"mark":{"type":"tick","size":16,"thickness":1,"color":"#555"},
    "encoding":{"y":{"field":"hi","type":"quantitative","title":"H-score or % Expression","scale":{"domain":[-15,315],"nice":false,"zero":false},"axis":{"values":[0,50,100,150,200,250,300],"titleFontWeight":"normal","titlePadding":12}}}},
   {"data":{"name":"box"},"transform":[{"filter":"datum.p==='b1'"}],"mark":{"type":"tick","size":30,"thickness":2.5,"color":"#111"},
    "encoding":{"y":{"field":"md","type":"quantitative","title":"H-score or % Expression","scale":{"domain":[-15,315],"nice":false,"zero":false},"axis":{"values":[0,50,100,150,200,250,300],"titleFontWeight":"normal","titlePadding":12}}}},
   {"data":{"name":"out"},"transform":[{"filter":"datum.p==='b1'"}],"mark":{"type":"point","size":13,"stroke":"#444","strokeWidth":0.7,"filled":false},
    "encoding":{"y":{"field":"v","type":"quantitative","title":"H-score or % Expression","scale":{"domain":[-15,315],"nice":false,"zero":false},"axis":{"values":[0,50,100,150,200,250,300],"titleFontWeight":"normal","titlePadding":12}}}}
  ]
 },
 {
  "width":613,"height":86,
  "title":{"text":"Distant Metastasis Occurred","color":"#e3201b","fontSize":18,"fontWeight":"bold","offset":-2,"frame":"group","dx":4},
  "encoding":{"x":{"field":"m","type":"nominal","title":null,
    "scale":{"type":"band","domain":["MB1LI","ER","PR","HER2","EGFR","P53","BCL2","N-cad","P-cad","PIK3CA","STAT3","Tomm34","ZNF22","CD44","Ck5/6"],"paddingInner":0,"paddingOuter":0.61},
    "axis":{"labelAngle":-90,"labelAlign":"left","labelBaseline":"middle","labelPadding":44,"tickSize":5,"labelFontSize":10,"labelFontWeight":"bold"}}},
  "layer":[
   {"data":{"name":"box"},"transform":[{"filter":"datum.p==='b2'"}],"mark":{"type":"rule","strokeDash":[2,2],"color":"#555","strokeWidth":1},
    "encoding":{"y":{"field":"lo","type":"quantitative","title":"H-score or % Expression","scale":{"domain":[-15,315],"nice":false,"zero":false},"axis":{"values":[0,50,100,150,200,250,300],"titleFontWeight":"normal","titlePadding":12}},"y2":{"field":"hi"}}},
   {"data":{"name":"box"},"transform":[{"filter":"datum.p==='b2'"}],"mark":{"type":"bar","size":30,"fill":"#e6e6fa","stroke":"#555","strokeWidth":1.2},
    "encoding":{"y":{"field":"q1","type":"quantitative","title":"H-score or % Expression","scale":{"domain":[-15,315],"nice":false,"zero":false},"axis":{"values":[0,50,100,150,200,250,300],"titleFontWeight":"normal","titlePadding":12}},"y2":{"field":"q3"}}},
   {"data":{"name":"box"},"transform":[{"filter":"datum.p==='b2'"}],"mark":{"type":"tick","size":16,"thickness":1,"color":"#555"},
    "encoding":{"y":{"field":"lo","type":"quantitative","title":"H-score or % Expression","scale":{"domain":[-15,315],"nice":false,"zero":false},"axis":{"values":[0,50,100,150,200,250,300],"titleFontWeight":"normal","titlePadding":12}}}},
   {"data":{"name":"box"},"transform":[{"filter":"datum.p==='b2'"}],"mark":{"type":"tick","size":16,"thickness":1,"color":"#555"},
    "encoding":{"y":{"field":"hi","type":"quantitative","title":"H-score or % Expression","scale":{"domain":[-15,315],"nice":false,"zero":false},"axis":{"values":[0,50,100,150,200,250,300],"titleFontWeight":"normal","titlePadding":12}}}},
   {"data":{"name":"box"},"transform":[{"filter":"datum.p==='b2'"}],"mark":{"type":"tick","size":30,"thickness":2.5,"color":"#111"},
    "encoding":{"y":{"field":"md","type":"quantitative","title":"H-score or % Expression","scale":{"domain":[-15,315],"nice":false,"zero":false},"axis":{"values":[0,50,100,150,200,250,300],"titleFontWeight":"normal","titlePadding":12}}}},
   {"data":{"name":"out"},"transform":[{"filter":"datum.p==='b2'"}],"mark":{"type":"point","size":13,"stroke":"#444","strokeWidth":0.7,"filled":false},
    "encoding":{"y":{"field":"v","type":"quantitative","title":"H-score or % Expression","scale":{"domain":[-15,315],"nice":false,"zero":false},"axis":{"values":[0,50,100,150,200,250,300],"titleFontWeight":"normal","titlePadding":12}}}}
  ]
 }
 ]
}
]
}
